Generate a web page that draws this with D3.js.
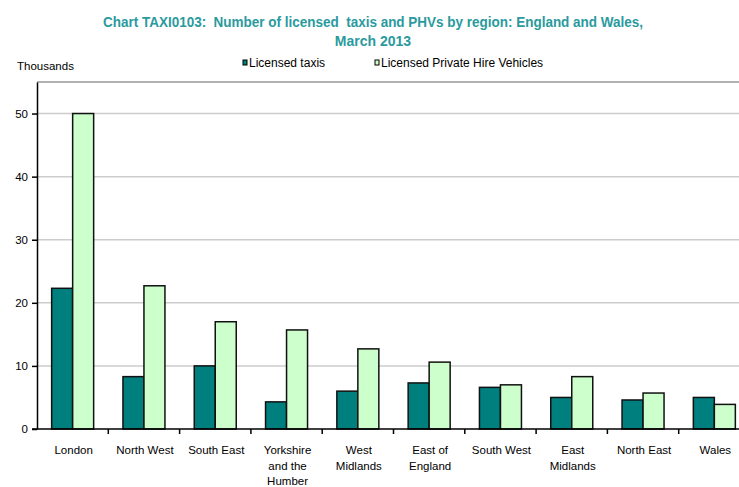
<!DOCTYPE html>
<html>
<head>
<meta charset="utf-8">
<script src="https://cdn.jsdelivr.net/npm/d3@7"></script>
<style>
  body { margin: 0; background: #fff; }
  svg text { font-family: "Liberation Sans", Arial, sans-serif; }
</style>
</head>
<body>
<svg id="chart" width="739" height="487"></svg>
<script>
// data (thousands)
const REGIONS = ['London', 'North West', 'South East', 'Yorkshire and the Humber', 'West Midlands',
  'East of England', 'South West', 'East Midlands', 'North East', 'Wales'];
const REGION_LINES = [['London'], ['North West'], ['South East'], ['Yorkshire', 'and the', 'Humber'],
  ['West', 'Midlands'], ['East of', 'England'], ['South West'], ['East', 'Midlands'], ['North East'], ['Wales']];
const TAXIS = [22.3, 8.3, 10.0, 4.3, 6.0, 7.3, 6.6, 5.0, 4.6, 5.0];
const PHVS = [50.0, 22.7, 17.0, 15.7, 12.7, 10.6, 7.0, 8.3, 5.7, 3.9];
const Y_TICKS = [0, 10, 20, 30, 40, 50];
const SERIES = ['Licensed taxis', 'Licensed Private Hire Vehicles'];
const COLOURS = ['#007f7f', '#ccffcc'];

const svg = d3.select('#chart');
const M = {left: 37, top: 82, right: 750, bottom: 429};

const x = d3.scaleBand().domain(REGIONS).range([M.left, M.right]);
const y = d3.scaleLinear().domain([0, 55]).range([M.bottom, M.top]);
const BAR_W = 21;

// title
svg.append('text')
    .attr('x', 373).attr('y', 27)
    .attr('text-anchor', 'middle')
    .attr('fill', '#2a9a9e')
    .attr('font-size', 14).attr('font-weight', 'bold')
    .attr('textLength', 540).attr('lengthAdjust', 'spacingAndGlyphs')
    .style('white-space', 'pre')
    .text('Chart TAXI0103:  Number of licensed  taxis and PHVs by region: England and Wales,');
svg.append('text')
    .attr('x', 373).attr('y', 46)
    .attr('text-anchor', 'middle')
    .attr('fill', '#2a9a9e')
    .attr('font-size', 14).attr('font-weight', 'bold')
    .text('March 2013');

svg.append('text').attr('x', 17).attr('y', 70)
    .attr('font-size', 11.5).attr('fill', '#000').text('Thousands');

// legend
const LEGEND_X = [243, 375];
SERIES.forEach((s, i) => {
  svg.append('rect').attr('x', LEGEND_X[i]).attr('y', 60).attr('width', 4).attr('height', 5)
      .attr('fill', COLOURS[i]).attr('stroke', '#000').attr('stroke-width', 1);
  svg.append('text').attr('x', LEGEND_X[i] + 6).attr('y', 66.5)
      .attr('font-size', 12).attr('fill', '#000').text(s);
});

// gridlines
svg.append('g').selectAll('line')
    .data(Y_TICKS.filter(d => d > 0))
    .enter().append('line')
    .attr('x1', M.left).attr('x2', 739)
    .attr('y1', d => y(d)).attr('y2', d => y(d))
    .attr('stroke', '#cccccc').attr('stroke-width', 1.5);

// top border of plot area
svg.append('line').attr('x1', M.left).attr('x2', 739).attr('y1', M.top).attr('y2', M.top)
    .attr('stroke', '#999').attr('stroke-width', 1.5);

// bars
const groups = svg.append('g').selectAll('g')
    .data(REGIONS).enter().append('g');
[TAXIS, PHVS].forEach((vals, si) => {
  groups.append('rect')
      .attr('x', (d, i) => x(d) + x.bandwidth() / 2 - BAR_W + si * BAR_W)
      .attr('y', (d, i) => y(vals[i]))
      .attr('width', BAR_W)
      .attr('height', (d, i) => y(0) - y(vals[i]))
      .attr('fill', COLOURS[si])
      .attr('stroke', '#111').attr('stroke-width', 1.5);
});

// y axis
const yAxis = svg.append('g').attr('transform', `translate(${M.left},0)`)
    .call(d3.axisLeft(y).tickValues(Y_TICKS).tickSize(5).tickSizeOuter(0));
yAxis.select('.domain').attr('stroke', '#000').attr('stroke-width', 1.5);
yAxis.selectAll('.tick line').attr('stroke', '#000').attr('stroke-width', 1.5);
yAxis.selectAll('.tick text').attr('font-size', 11.5).attr('fill', '#000')
    .attr('font-family', '"Liberation Sans", Arial, sans-serif').attr('x', -9);

// x axis
const xAxis = svg.append('g').attr('transform', `translate(0,${M.bottom})`);
xAxis.append('line').attr('x1', M.left - 5).attr('x2', 739).attr('y1', 0).attr('y2', 0)
    .attr('stroke', '#000').attr('stroke-width', 1.5);
xAxis.selectAll('.xtick')
    .data(REGIONS).enter().append('line')
    .attr('x1', d => x(d) + x.bandwidth()).attr('x2', d => x(d) + x.bandwidth())
    .attr('y1', 0).attr('y2', 5)
    .attr('stroke', '#000').attr('stroke-width', 1.5);
const labels = xAxis.selectAll('.xlabel')
    .data(REGIONS).enter().append('text')
    .attr('text-anchor', 'middle')
    .attr('font-size', 11.5).attr('fill', '#000')
    .attr('transform', d => `translate(${x(d) + x.bandwidth() / 2 + 1},25)`);
labels.selectAll('tspan')
    .data((d, i) => REGION_LINES[i])
    .enter().append('tspan')
    .attr('x', 0).attr('dy', (d, i) => i === 0 ? 0 : 15.5)
    .text(d => d);
</script>
</body>
</html>
